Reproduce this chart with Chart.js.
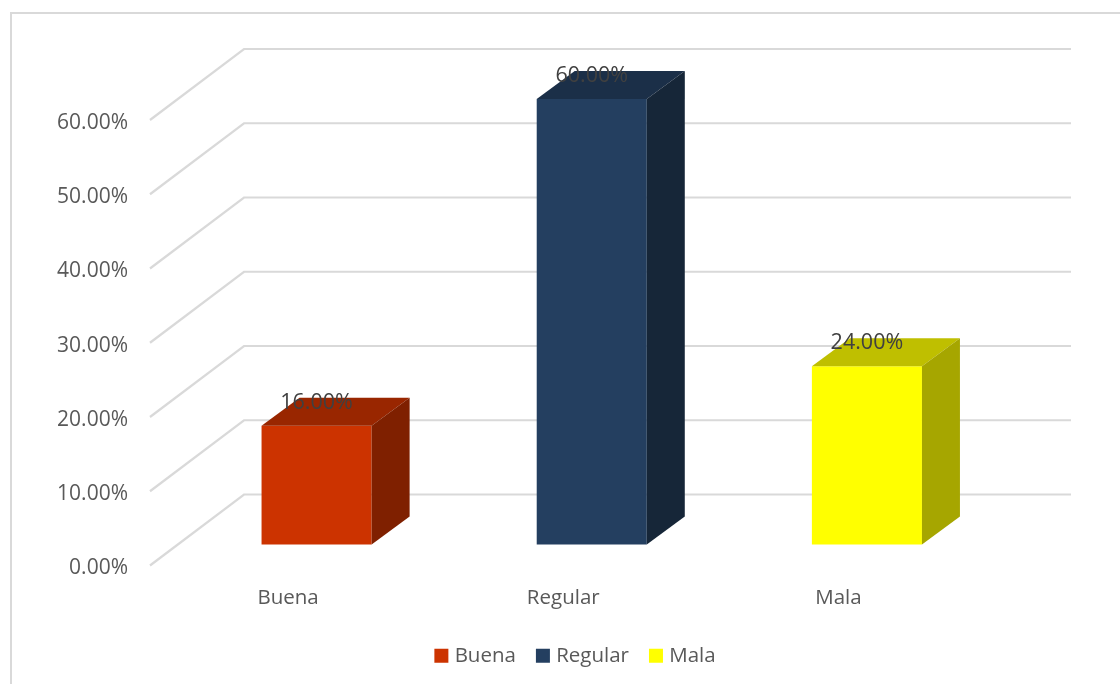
<!DOCTYPE html>
<html>
<head>
<meta charset="utf-8">
<style>html,body{margin:0;padding:0;background:#fff;overflow:hidden}canvas{display:block}</style>
<script src="https://cdn.jsdelivr.net/npm/chart.js@4"></script>
</head>
<body>
<canvas id="c" width="1120" height="684"></canvas>
<script>
const categories = ['Buena', 'Regular', 'Mala'];
const values = [16, 60, 24];
const frontColors = ['#CC3300', '#243F60', '#FFFF00'];
const topColors = ['#992600', '#1B2F48', '#BFBF00'];
const sideColors = ['#7F2000', '#162638', '#A6A600'];
const yTicks = [0, 10, 20, 30, 40, 50, 60];

const FONT = '"Open Sans", sans-serif';
const WALL = {dx: 94, dy: -71, extra: 1.5};
const BAR = {dx: 29, dy: -21};
const DEPTH = {dx: 38, dy: -28};
const pct = v => v.toFixed(2) + '%';

const threeD = {
  id: 'threeD',
  beforeDraw(chart) {
    const c = chart.ctx;
    c.save();
    c.fillStyle = '#fff';
    c.fillRect(0, 0, chart.width, chart.height);
    c.strokeStyle = '#D9D9D9';
    c.lineWidth = 2;
    c.beginPath();
    c.moveTo(11, chart.height);
    c.lineTo(11, 13);
    c.lineTo(chart.width, 13);
    c.stroke();
    c.restore();
    chart.scales.y.getLabelItems().forEach(it => { it.options.translation[1] += 3; });
    chart.scales.x.getLabelItems().forEach(it => { it.options.translation[0] += 0.5; it.options.translation[1] += 1; });
  },
  afterLayout(chart) {
    const l = chart.legend;
    l.left = 0; l.right = 1154;
    l.top -= 8; l.bottom -= 8;
  },
  beforeDatasetsDraw(chart) {
    const c = chart.ctx, y = chart.scales.y, a = chart.chartArea;
    c.save();
    c.strokeStyle = '#D9D9D9';
    c.lineWidth = 2.2;
    yTicks.forEach(t => {
      const p = y.getPixelForValue(t);
      c.beginPath();
      c.moveTo(a.left, p);
      c.lineTo(a.left + WALL.dx, p + WALL.dy);
      c.lineTo(a.right + WALL.dx + WALL.extra, p + WALL.dy);
      c.stroke();
    });
    c.restore();
    c.save();
    c.translate(BAR.dx, BAR.dy);
  },
  afterDatasetsDraw(chart) {
    const c = chart.ctx;
    c.restore();
    const bars = chart.getDatasetMeta(0).data;
    bars.forEach((b, i) => {
      const hw = b.width / 2;
      const L = b.x - hw + BAR.dx, R = b.x + hw + BAR.dx;
      const T = b.y + BAR.dy, B = b.base + BAR.dy;
      c.fillStyle = topColors[i];
      c.beginPath();
      c.moveTo(L, T); c.lineTo(R, T);
      c.lineTo(R + DEPTH.dx, T + DEPTH.dy);
      c.lineTo(L + DEPTH.dx, T + DEPTH.dy);
      c.closePath(); c.fill();
      c.fillStyle = sideColors[i];
      c.beginPath();
      c.moveTo(R, T); c.lineTo(R + DEPTH.dx, T + DEPTH.dy);
      c.lineTo(R + DEPTH.dx, B + DEPTH.dy);
      c.lineTo(R, B);
      c.closePath(); c.fill();
    });
    c.save();
    c.font = '21.5px ' + FONT;
    c.fillStyle = '#404040';
    c.textAlign = 'center';
    c.textBaseline = 'middle';
    bars.forEach((b, i) => {
      c.fillText(pct(values[i]), b.x + BAR.dx, b.y + BAR.dy - 23);
    });
    c.restore();
  }
};

new Chart(document.getElementById('c'), {
  type: 'bar',
  data: {
    labels: categories,
    datasets: [{
      data: values,
      backgroundColor: frontColors,
      borderWidth: 0,
      barPercentage: 1,
      categoryPercentage: 0.4,
      clip: false
    }]
  },
  plugins: [threeD],
  options: {
    responsive: false,
    animation: false,
    events: [],
    layout: {padding: {top: 120, right: 144.5, bottom: 0, left: 0}},
    scales: {
      x: {
        grid: {display: false, drawTicks: false},
        border: {display: false},
        ticks: {padding: 19, maxRotation: 0, color: '#595959', font: {family: FONT, size: 20.5}},
        afterFit(s) { s.height = 64; }
      },
      y: {
        min: 0, max: 60,
        grid: {display: false, drawTicks: false},
        border: {display: false},
        afterBuildTicks(s) { s.ticks = yTicks.map(v => ({value: v})); },
        ticks: {padding: 22, color: '#595959', font: {family: FONT, size: 21}, callback: v => pct(v)},
        afterFit(s) { s.width = 150; }
      }
    },
    plugins: {
      tooltip: {enabled: false},
      legend: {
        display: true,
        position: 'bottom',
        labels: {
          usePointStyle: true,
          boxWidth: 6,
          boxHeight: 14,
          padding: 24,
          color: '#595959',
          font: {family: FONT, size: 20.5},
          generateLabels: () => categories.map((t, i) => ({
            text: t, fillStyle: frontColors[i], strokeStyle: frontColors[i], fontColor: '#595959',
            lineWidth: 0, pointStyle: 'rect', hidden: false, index: i
          }))
        }
      }
    }
  }
});
</script>
</body>
</html>
